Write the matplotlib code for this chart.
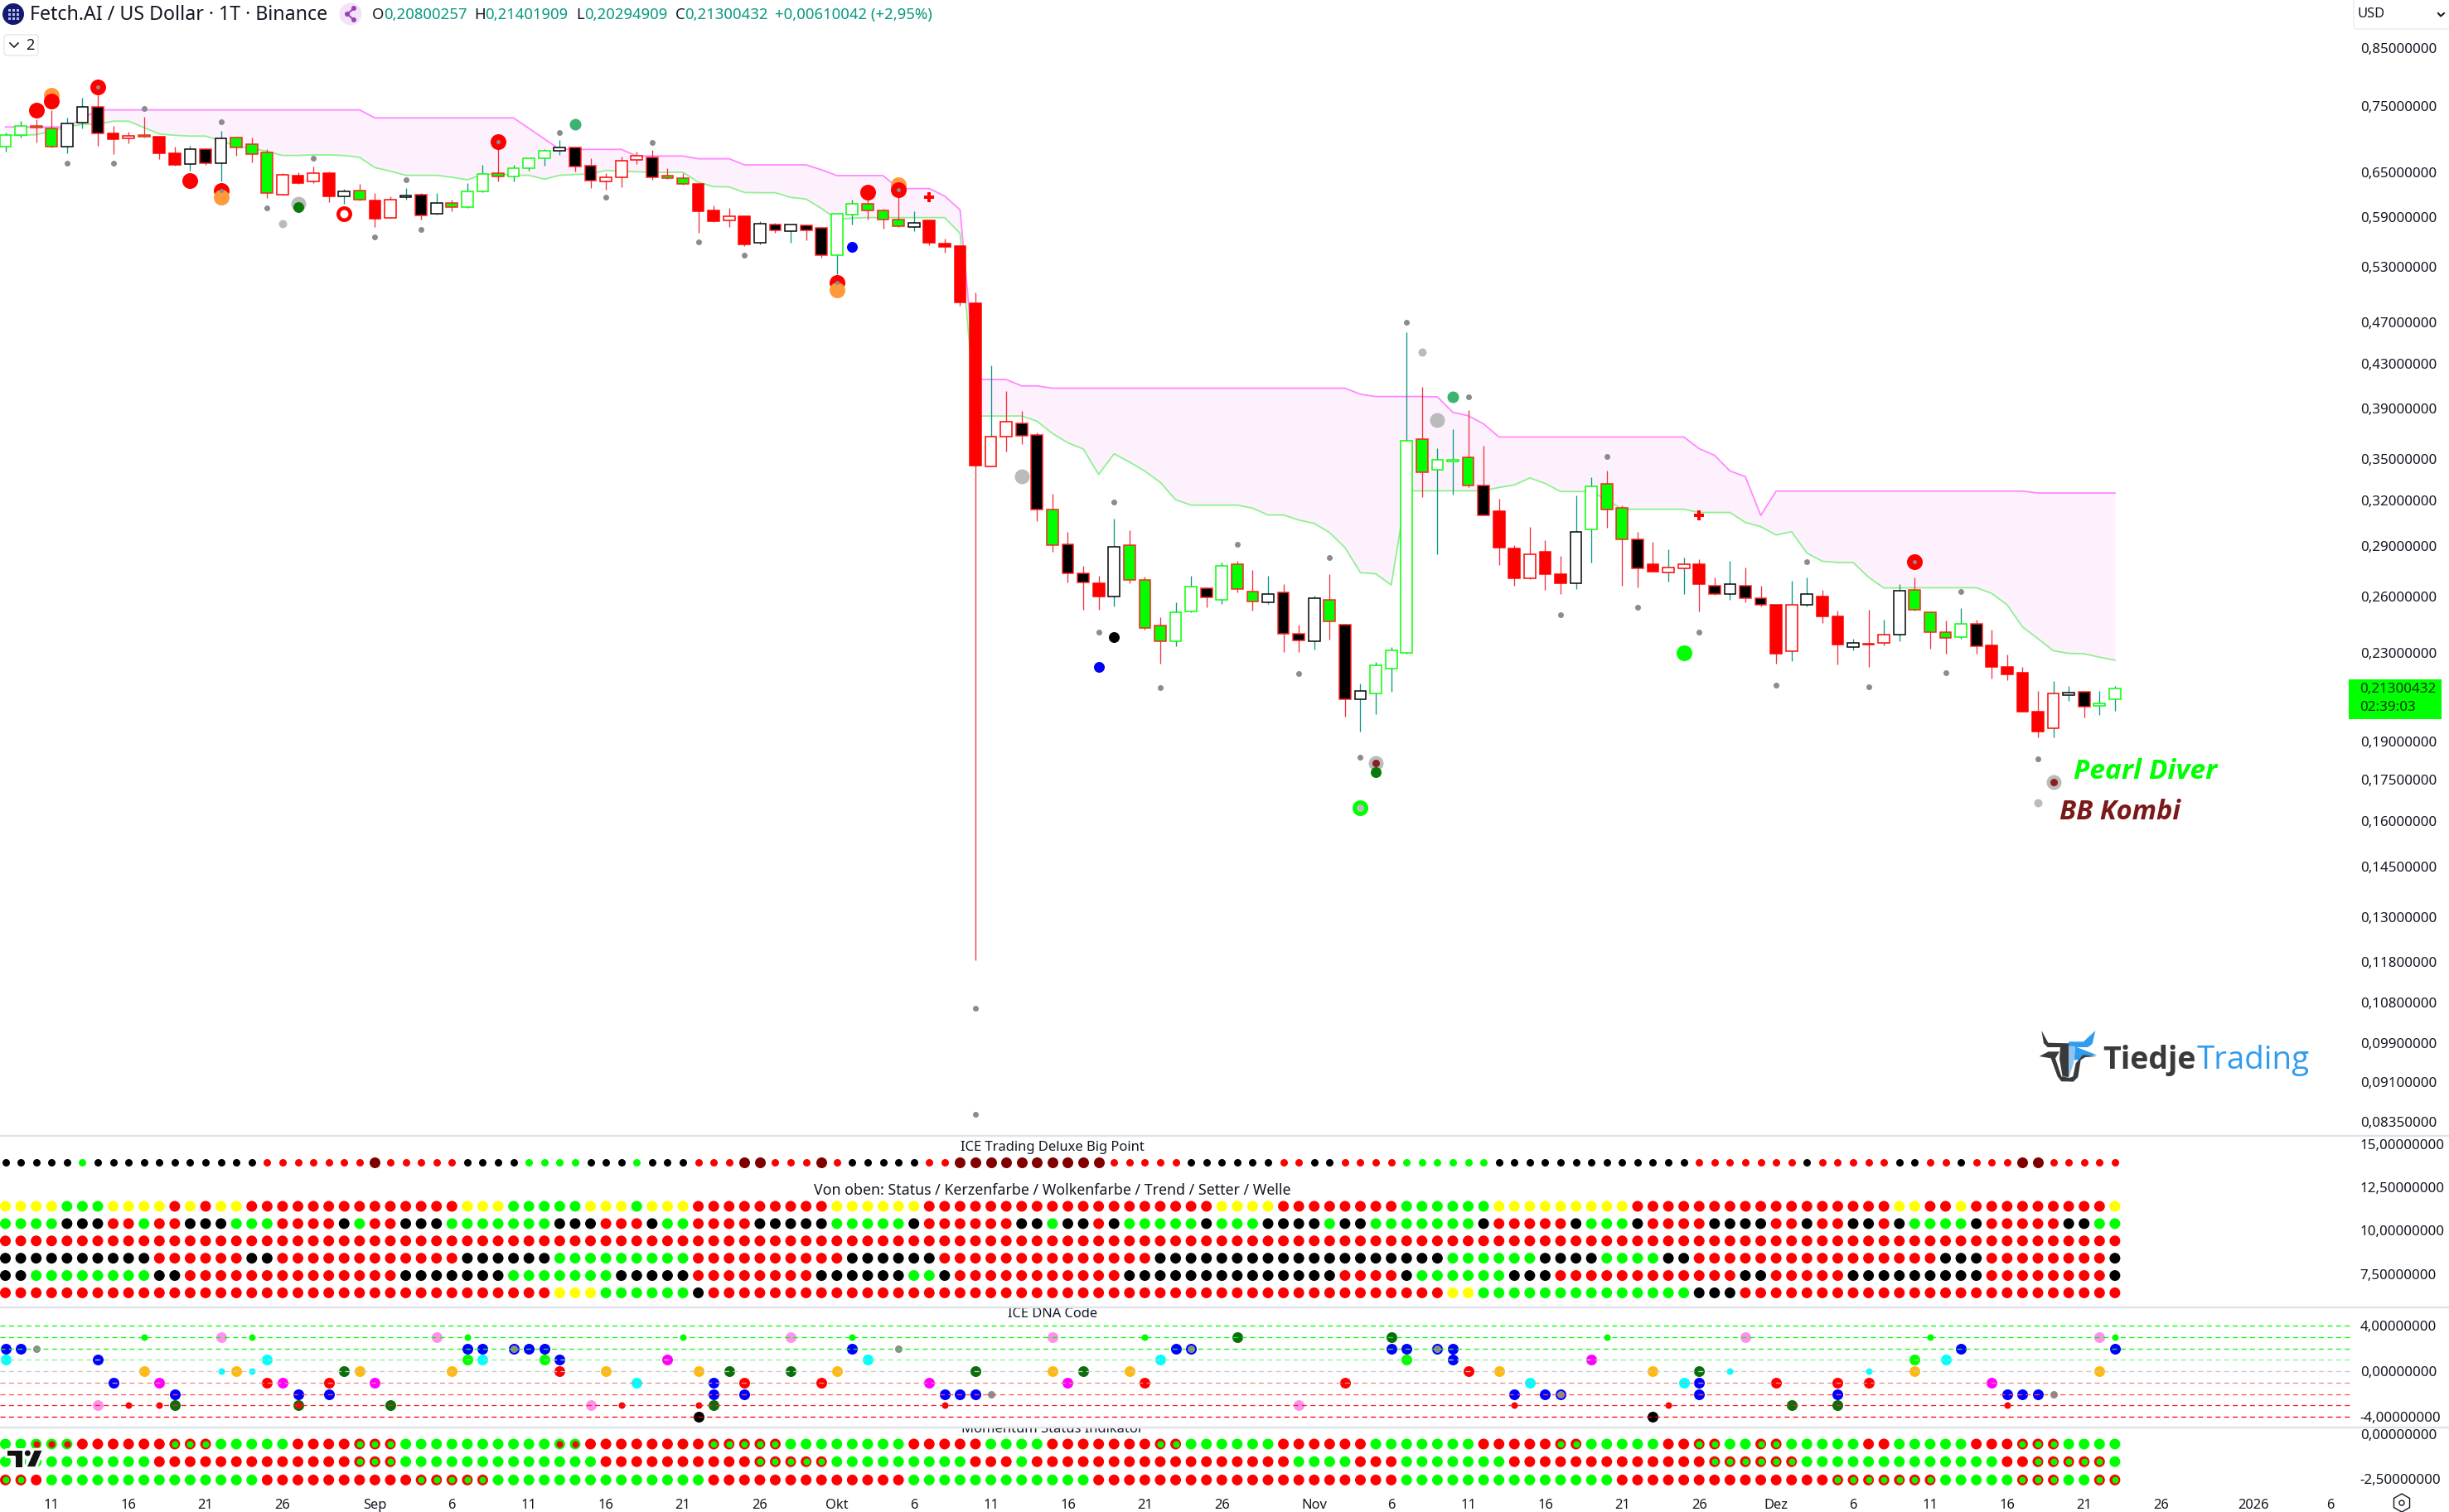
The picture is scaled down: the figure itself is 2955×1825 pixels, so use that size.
import matplotlib
matplotlib.use("Agg")
import matplotlib.pyplot as plt
from matplotlib.patches import Rectangle, Polygon, Circle, FancyBboxPatch, RegularPolygon
from matplotlib.lines import Line2D
from matplotlib.ticker import FixedLocator, FixedFormatter, NullLocator

plt.rcParams['font.family'] = ['Noto Sans', 'DejaVu Sans']
TXT = '#131722'
W, H = 2955, 1825
PX = 0.72  # points per pixel at dpi 100

# ---------- candles ----------
body_top = [.7049,.7180,.7180,.7142,.7219,.7491,.7491,.7066,.7028,.7049,
 .7015,.6768,.6829,.6829,.6990,.7002,.6904,.6780,.6461,.6449,
 .6484,.6484,.6234,.6245,.6112,.6123,.6182,.6189,.6079,.6079,
 .6234,.6472,.6484,.6553,.6696,.6804,.6854,.6854,.6588,.6426,
 .6660,.6732,.6708,.6449,.6414,.6335,.5982,.5908,.5908,.5813,
 .5803,.5803,.5793,.5762,.5940,.6068,.6068,.5982,.5865,.5823,
 .5855,.5569,.5539,.4900,.3670,.3791,.3776,.3687,.3133,.2906,
 .2732,.2673,.2892,.2901,.2692,.2441,.2512,.2654,.2646,.2776,
 .2788,.2627,.2613,.2621,.2397,.2590,.2580,.2445,.2118,.2239,
 .2313,.3636,.3651,.3492,.3492,.3512,.3302,.3123,.2881,.2846,
 .2861,.2727,.2988,.3297,.3315,.3145,.2939,.2786,.2766,.2786,
 .2786,.2658,.2669,.2658,.2591,.2550,.2550,.2611,.2598,.2489,
 .2350,.2347,.2391,.2631,.2635,.2511,.2405,.2449,.2449,.2338,
 .2231,.2203,.2026,.2107,.2110,.2113,.2063,.2130]
body_bot = [.6867,.7040,.7155,.6867,.6867,.7232,.7066,.6986,.6990,.7015,
 .6776,.6600,.6612,.6624,.6632,.6862,.6756,.6211,.6196,.6354,
 .6369,.6167,.6167,.6123,.5883,.5893,.6163,.5918,.5939,.6024,
 .6024,.6234,.6438,.6438,.6553,.6696,.6804,.6577,.6380,.6369,
 .6426,.6672,.6426,.6414,.6335,.5971,.5851,.5855,.5565,.5579,
 .5731,.5720,.5731,.5431,.5431,.5929,.5982,.5865,.5782,.5772,
 .5579,.5535,.4902,.3446,.3440,.3668,.3676,.3135,.2904,.2732,
 .2677,.2598,.2598,.2694,.2426,.2359,.2359,.2516,.2594,.2580,
 .2640,.2571,.2566,.2397,.2363,.2359,.2462,.2081,.2081,.2107,
 .2223,.2300,.3396,.3415,.3477,.3302,.3097,.2890,.2701,.2701,
 .2725,.2673,.2673,.3005,.3133,.2939,.2760,.2744,.2739,.2761,
 .2667,.2613,.2611,.2587,.2550,.2296,.2308,.2550,.2489,.2341,
 .2329,.2344,.2350,.2391,.2524,.2405,.2375,.2382,.2332,.2231,
 .2197,.2026,.1940,.1955,.2099,.2048,.2051,.2080]
highs = [.7082,.7262,.7288,.7428,.7310,.7634,.7675,.7180,.7096,.7327,
 .7015,.6874,.6882,.6833,.7109,.7006,.7006,.6833,.6484,.6495,
 .6580,.6507,.6267,.6339,.6219,.6167,.6279,.6211,.6215,.6123,
 .6346,.6600,.6932,.6600,.6700,.6833,.6969,.6862,.6700,.6484,
 .6728,.6792,.6817,.6553,.6488,.6354,.6054,.6014,.5922,.5851,
 .5823,.5810,.5803,.5765,.5950,.6123,.6211,.6010,.6249,.5975,
 .5858,.5629,.5545,.5014,.4283,.4053,.3877,.3705,.3242,.2990,
 .2774,.2718,.3077,.3000,.2710,.2485,.2566,.2718,.2648,.2796,
 .2808,.2752,.2718,.2671,.2443,.2604,.2729,.2448,.2152,.2256,
 .2330,.4596,.4086,.3580,.3733,.3889,.3597,.3210,.2904,.3022,
 .2937,.2839,.3232,.3360,.3412,.3163,.2986,.2925,.2878,.2824,
 .2818,.2707,.2804,.2768,.2660,.2552,.2689,.2707,.2637,.2520,
 .2372,.2525,.2473,.2670,.2707,.2517,.2465,.2533,.2473,.2419,
 .2293,.2232,.2120,.2165,.2142,.2113,.2120,.2140]
lows = [.6800,.7011,.6932,.6862,.6772,.7147,.6886,.6764,.6916,.7011,
 .6692,.6592,.6523,.6608,.6376,.6732,.6644,.6152,.6193,.6343,
 .6354,.6094,.6072,.6120,.5775,.5886,.6130,.5869,.5936,.5975,
 .6021,.6230,.6376,.6376,.6526,.6592,.6752,.6515,.6286,.6264,
 .6294,.6616,.6399,.6410,.6331,.5703,.5841,.5775,.5545,.5562,
 .5707,.5585,.5612,.5405,.5218,.5810,.5869,.5758,.5775,.5727,
 .5555,.5463,.4873,.1185,.3440,.3554,.3611,.3056,.2863,.2679,
 .2526,.2524,.2544,.2675,.2418,.2246,.2332,.2510,.2537,.2555,
 .2623,.2522,.2555,.2305,.2303,.2318,.2368,.2006,.1940,.2014,
 .2116,.2298,.3221,.2848,.3236,.3289,.3094,.2783,.2660,.2696,
 .2638,.2612,.2642,.2794,.3013,.2660,.2652,.2743,.2682,.2611,
 .2514,.2606,.2582,.2565,.2543,.2249,.2258,.2541,.2452,.2242,
 .2311,.2233,.2338,.2357,.2520,.2323,.2295,.2372,.2298,.2175,
 .2170,.2025,.1915,.1915,.2072,.2002,.2010,.2029]
candle_style = ("LLGGBBKRWG" "RRBKBGGGWR" "WRBGRWBKBG" "LLGLLLBKKW" "WWKGGRRWRB"
                "KBKKLLGGGB" "RRRRWWKKGK" "KRBGGGLLKL" "GGBKKBGKBL" "LLGLLGKRRW"
                "RRBLGGKRWW" "RKBKKRWBRR" "BWWBGGGLKR" "RRRWBKLL")
teal_wick_extra = [64, 108, 109, 116, 122, 133]

# ---------- cloud ----------
cloud_upper = [.7168]*5 + [.7297] + [.7437]*18 + [.7310]*10 + [.7147,.6986] + [.6829]*5 + [.6732]*4 + \
    [.6692]*3 + [.6604]*5 + [.6534] + [.6453]*4 + [.6275]*3 + [.6174,.5993] + [.4153]*3 + [.4096]*2 + \
    [.4076]*20 + [.4023] + [.4003]*4 + [.4000,.3869,.3841,.3773] + [.3668]*13 + \
    [.3577,.3525,.3408,.3367,.3096] + [.3263]*17 + [.3250]*6
cloud_lower = [.7040,.7040,.7049,.7103,.7168,.7210,.7210,.7258,.7258,.7159,
 .7061,.7040,.7028,.7028,.6957,.6874,.6845,.6800,.6740,.6740,
 .6748,.6748,.6740,.6712,.6565,.6515,.6457,.6457,.6457,.6430,
 .6395,.6468,.6476,.6457,.6457,.6403,.6457,.6468,.6476,.6526,
 .6515,.6507,.6499,.6499,.6499,.6361,.6301,.6297,.6222,.6218,
 .6218,.6156,.6134,.6010,.5869,.5886,.5893,.5893,.5893,.5893,
 .5893,.5893,.5696,.3838,.3838,.3838,.3838,.3795,.3696,.3622,
 .3574,.3383,.3537,.3475,.3407,.3326,.3202,.3166,.3166,.3166,
 .3166,.3145,.3099,.3099,.3065,.3043,.2983,.2888,.2736,.2729,
 .2664,.3265,.3265,.3265,.3265,.3265,.3265,.3289,.3307,.3357,
 .3318,.3260,.3260,.3260,.3202,.3138,.3138,.3138,.3138,.3138,
 .3116,.3116,.3116,.3049,.3022,.2968,.2989,.2854,.2804,.2797,
 .2797,.2709,.2647,.2647,.2648,.2648,.2648,.2648,.2648,.2616,
 .2552,.2433,.2372,.2311,.2298,.2296,.2279,.2264]

# ---------- main-pane signals: (bar, price) ----------
small_gray = [(4,.6624),(7,.6624),(9,.7455),(14,.7249),(20,.6700),(17,.6014),(26,.6391),(24,.5652),
 (27,.5748),(36,.7078),(39,.6156),(42,.6928),(45,.5589),(48,.5431),(63,.1067),(63,.0848),
 (72,.3187),(91,.4697),(95,.4000),(80,.2908),(86,.2827),(104,.3519),(101,.2497),(106,.2540),
 (71,.2407),(75,.2135),(84,.2199),(88,.1835),(117,.2802),(110,.2404),(115,.2146),(121,.2136),
 (126,.2203),(127,.2626),(132,.1829)]
mid_gray = [(18,.5813),(92,.4405),(132,.1663)]
big_gray = [(19,.6068),(66,.3368),(93,.3803),(89,.1813),(133,.1741)]
orange_pts = [(3,.7675),(58,.6331)]
red_pts = [(6,.7811),(3,.7576),(2,.7428),(12,.6380),(14,.6249),(32,.6940),(58,.6264),(56,.6230),(54,.5125),(124,.2800)]
orange_over = [(14,.6156),(54,.5041)]
red_centers = [(6,.7811),(14,.6249),(32,.6940),(58,.6264),(54,.5125),(124,.2800)]
red_rings = [(22,.5940)]
red_plus = [(60,.6156),(110,.3097)]
blue_pts = [(55,.5534),(71,.2233)]
black_pts = [(72,.2382)]
seagreen_pts = [(37,.7210),(94,.3997)]
darkgreen_pts = [(19,.6028),(89,.1777)]
brown_centers = [(89,.1813),(133,.1741)]
lime_pts = [(109,.2301)]
lime_rings = [(88,.1645)]

# ---------- indicator rows ----------
deluxe_row = "k5 g1 k11 r7 D1 r5 k4 g4 k3 g1 k3 r3 D2 r3 D1 r1 k5 r2 D10 r5 k6 r2 k2 r4 g6 k13 r7 k1 r5 k2 r2 k1 r3 D2 r5"
status_rows = [
 "y4 g3 y4 r1 y1 r1 y2 r14 y3 g5 y3 g1 y3 r9 y6 r19 y4 r8 g6 y9 r17 y2 r2 y1 r9 y1",
 "g4 k3 r2 g1 r2 k3 g3 r4 k1 g1 r2 k3 g7 k3 r3 k1 g2 r4 k5 g5 k1 r6 k2 g1 k2 r1 k1 g5 k1 g3 k4 g1 k2 g7 k1 r5 k1 g3 k1 r4 k4 r2 k1 r2 k2 r1 k1 g4 k1 r5 k2 g2",
 "r138",
 "k10 r6 k2 r12 k6 g9 r9 r1 k6 r14 k19 g6 k4 g4 k2 r16 k3 r8 k1",
 "k2 g8 k2 r14 k7 g7 k5 r8 k1 k5 g2 k1 r11 k14 r4 k1 g6 k3 r7 r5 k2 r5 k9 r8 k1",
 "r36 y3 g6 k1 r8 r40 y2 g12 g2 k3 r25",
]
status_levels = [11.41, 10.41, 9.41, 8.41, 7.41, 6.41]
deluxe_level = 13.95
momentum_rows = [
 "g2 b3 r6 a3 g5 r4 a3 g10 b2 r8 a5 g3 g5 r5 g4 r7 a2 g6 r6 g7 r5 a2 g5 r2 a2 g2 a2 g5 r2 g5 r3 a3 g4",
 "g10 r13 a3 g13 r10 a5 g9 r3 g1 r17 g4 r3 g7 r10 r3 a6 g13 r2 a5 g1",
 "a2 r1 g14 r10 a5 g14 r8 r5 g12 r20 g14 r3 r11 a7 g5 a3 g2 a2",
]
momentum_levels = [-0.55, -1.53, -2.55]

dna_levels = [4, 3, 2, 1, 0, -1, -2, -3, -4]
dna_line_colors = ['#00FF00', '#00FF00', '#20F020', '#90EE90', '#C8C8C8', '#F08888', '#F05858', '#F02020', '#FF0000']
dna_dots = {  # level: [(bar, kind), ...]
 3: [(9,'s'),(14,'p'),(16,'s'),(28,'p'),(30,'s'),(44,'s'),(51,'p'),(55,'s'),(68,'p'),(74,'s'),(80,'G'),(90,'G'),(104,'s'),(113,'p'),(125,'s'),(136,'p'),(137,'s')],
 2: [(0,'B'),(1,'B'),(2,'y'),(30,'B'),(31,'B'),(33,'R'),(34,'B'),(35,'B'),(55,'B'),(58,'y'),(76,'B'),(77,'R'),(90,'B'),(91,'B'),(93,'R'),(94,'B'),(127,'B'),(137,'B')],
 1: [(0,'c'),(6,'B'),(17,'c'),(30,'g'),(31,'c'),(35,'g'),(36,'B'),(43,'m'),(56,'c'),(75,'c'),(91,'g'),(94,'B'),(103,'m'),(124,'g'),(126,'c')],
 0: [(9,'o'),(14,'t'),(15,'o'),(16,'t'),(22,'G'),(23,'o'),(29,'o'),(36,'r'),(39,'o'),(45,'o'),(47,'G'),(51,'G'),(54,'o'),(63,'G'),(68,'o'),(70,'G'),(73,'o'),(95,'r'),(97,'o'),(107,'o'),(110,'G'),(112,'t'),(121,'t'),(124,'o'),(136,'o')],
 -1: [(7,'B'),(10,'m'),(17,'r'),(18,'m'),(21,'r'),(24,'m'),(41,'c'),(46,'B'),(48,'r'),(53,'r'),(60,'m'),(69,'m'),(74,'r'),(87,'r'),(99,'c'),(109,'c'),(110,'B'),(115,'r'),(119,'r'),(121,'r'),(129,'m')],
 -2: [(11,'B'),(19,'B'),(21,'B'),(46,'B'),(48,'B'),(61,'B'),(62,'B'),(63,'B'),(64,'y'),(98,'B'),(100,'B'),(101,'R'),(110,'B'),(119,'B'),(130,'B'),(131,'B'),(132,'B'),(133,'y')],
 -3: [(6,'p'),(8,'u'),(10,'u'),(11,'G'),(19,'G'),(19,'u'),(25,'G'),(38,'p'),(40,'u'),(45,'u'),(46,'G'),(61,'u'),(84,'p'),(98,'u'),(108,'u'),(116,'G'),(119,'G'),(130,'u')],
 -4: [(45,'k'),(107,'k')],
}

price_ticks = [.85,.75,.65,.59,.53,.47,.43,.39,.35,.32,.29,.26,.23,.19,.175,.16,.145,.13,.118,.108,.099,.091,.0835]
status_ticks = [15, 12.5, 10, 7.5]
dna_ticks = [4, 0, -4]
momentum_ticks = [0, -2.5]
date_bars = [3,8,13,18,24,29,34,39,44,49,54,59,64,69,74,79,85,90,95,100,105,110,115,120,125,130,135,140,146,151]
date_labels = ['11','16','21','26','Sep','6','11','16','21','26','Okt','6','11','16','21','26','Nov','6','11','16','21','26','Dez','6','11','16','21','26','2026','6']

LAST_PRICE = '0,21300432'
COUNTDOWN = '02:39:03'

# ---------- helpers ----------
def rle(s):
    return [t[0] for t in s.split() for _ in range(int(t[1:]))]

def fmt(v):
    return f"{v:.8f}".replace('.', ',')

def area(d):
    return (d * PX) ** 2

def pane(top, bottom):
    a = fig.add_axes([0, 1 - bottom / H, 2838 / W, (bottom - top) / H])
    a.set_xlim(-0.35, 152.4)
    for s in a.spines.values():
        s.set_visible(False)
    a.patch.set_alpha(0)
    a.yaxis.tick_right()
    a.tick_params(axis='y', length=0, pad=7, labelsize=17 * PX, labelcolor=TXT)
    a.tick_params(axis='x', length=0, bottom=False, labelbottom=False)
    for lab in a.get_yticklabels():
        lab.set_ha('left')
    return a

fig = plt.figure(figsize=(W / 100, H / 100), dpi=100, facecolor='white')

# ---------- main pane ----------
ax = pane(0, 1371)
ax.set_yscale('log')
ax.set_ylim(.0810, .9431)
ax.yaxis.set_major_locator(FixedLocator(price_ticks))
ax.yaxis.set_major_formatter(FixedFormatter([fmt(v) for v in price_ticks]))
ax.yaxis.set_minor_locator(NullLocator())
bars = list(range(138))
ax.fill_between(bars, cloud_lower, cloud_upper, color='#FDF1FD', lw=0, zorder=1)
ax.plot(bars, cloud_upper, color='#FF88FF', lw=1.8 * PX, zorder=2)
ax.plot(bars, cloud_lower, color='#90F090', lw=1.8 * PX, zorder=2)

STY = {'R': ('#FF0000', '#FF0000'), 'K': ('#000000', '#FF2020'), 'G': ('#00FF00', '#FF2020'),
       'W': ('#FFFFFF', '#FF0000'), 'L': ('#FFFFFF', '#00FF00'), 'B': ('#FFFFFF', '#000000')}
for i in bars:
    st = candle_style[i]
    teal = st in 'LB' or i in teal_wick_extra
    ax.plot([i, i], [lows[i], highs[i]], color='#089981' if teal else '#F03040', lw=1.3 * PX, zorder=3,
            solid_capstyle='butt')
    fc, ec = STY[st]
    ax.add_patch(Rectangle((i - 0.37, body_bot[i]), 0.74, body_top[i] - body_bot[i], facecolor=fc,
                           edgecolor=ec, lw=1.5 * PX, zorder=4))

def pts(lst, d, c, z=6, **kw):
    ax.scatter([p[0] for p in lst], [p[1] for p in lst], s=area(d), c=c, linewidths=0, zorder=z, **kw)

pts(big_gray, 18, '#BBBBBB', 5)
pts(mid_gray, 10, '#BBBBBB', 5)
pts(orange_pts, 19, '#FF9A3C', 5)
pts(red_pts, 19, '#FF0000', 6)
pts(orange_over, 19, '#FF9A3C', 7)
pts(red_centers, 5, '#8C8C8C', 8)
pts(small_gray, 7, '#8C8C8C', 6)
pts(red_rings, 19, '#FF0000', 6)
pts(red_rings, 10, '#FFFFFF', 7)
pts(blue_pts, 13, '#0000FF', 6)
pts(black_pts, 13, '#000000', 6)
pts(seagreen_pts, 14, '#3CB371', 6)
pts(darkgreen_pts, 13, '#0A7A0A', 8)
pts(brown_centers, 9, '#8B2020', 7)
pts(lime_pts, 19, '#00FF00', 6)
pts(lime_rings, 19, '#00FF00', 6)
pts(lime_rings, 9, '#BBBBBB', 7)
ax.scatter([p[0] for p in red_plus], [p[1] for p in red_plus], marker='P', s=area(12), c='#FF0000',
           linewidths=0, zorder=6)

# ---------- status pane ----------
DOT = {'k': '#000000', 'g': '#00FF00', 'r': '#FF0000', 'y': '#FFFF00', 'D': '#800000'}
ax2 = pane(1371, 1578)
ax2.set_ylim(5.57, 15.48)
ax2.set_yticks(status_ticks, [fmt(v) for v in status_ticks])
for i, c in enumerate(rle(deluxe_row)):
    ax2.scatter(i, deluxe_level, s=area(13 if c == 'D' else 9), c=DOT[c], linewidths=0)
for row, lev in zip(status_rows, status_levels):
    ax2.scatter(bars, [lev] * 138, s=area(13), c=[DOT[c] for c in rle(row)], linewidths=0)
TITLE_KW = dict(ha='center', va='baseline', color=TXT, clip_on=True)
ax2.text(68, 14.62, 'ICE Trading Deluxe Big Point', fontsize=16.6 * PX, **TITLE_KW)
ax2.text(68, 12.08, 'Von oben: Status / Kerzenfarbe / Wolkenfarbe / Trend / Setter / Welle', fontsize=17.8 * PX, **TITLE_KW)

# ---------- DNA pane ----------
ax3 = pane(1578, 1723)
ax3.set_ylim(-4.945, 5.6)
ax3.set_yticks(dna_ticks, [fmt(v) for v in dna_ticks])
KIND = {'B': ('#0000FF', 13), 'c': ('#00FFFF', 13), 'g': ('#00FF00', 13), 'G': ('#0B6E0B', 13),
        'p': ('#FF90EE', 13), 'm': ('#FF00FF', 13), 'o': ('#FFB90F', 13), 'r': ('#FF0000', 13),
        'k': ('#000000', 13), 'y': ('#8C8C8C', 9), 's': ('#00FF00', 8), 't': ('#00FFFF', 8),
        'u': ('#FF0000', 8), 'R': ('#0000FF', 13)}
for lev, items in dna_dots.items():
    for b, kind in items:
        c, d = KIND[kind]
        ax3.scatter(b, lev, s=area(d), c=c, linewidths=0, zorder=3 if d < 13 else 2)
        if kind == 'R':
            ax3.scatter(b, lev, s=area(9), c='#8C8C8C', linewidths=0, zorder=3)
for lev, c in zip(dna_levels, dna_line_colors):
    ax3.axhline(lev, color=c, lw=1.3 * PX, dashes=(4.6, 3.4), zorder=4)
ax3.text(68, 4.73, 'ICE DNA Code', fontsize=16.4 * PX, **TITLE_KW)

# ---------- momentum pane ----------
ax4 = pane(1723, 1800)
ax4.set_ylim(-3.18, 0.37)
ax4.set_yticks(momentum_ticks, [fmt(v) for v in momentum_ticks])
for row, lev in zip(momentum_rows, momentum_levels):
    cs = rle(row)
    outer = [{'g': '#00FF00', 'r': '#FF0000', 'a': '#FF0000', 'b': '#00FF00'}[c] for c in cs]
    ax4.scatter(bars, [lev] * 138, s=area(13), c=outer, linewidths=0, zorder=2)
    for i, c in enumerate(cs):
        if c in 'ab':
            ax4.scatter(i, lev, s=area(8), c='#00FF00' if c == 'a' else '#FF0000', linewidths=0, zorder=3)
ax4.text(68, 0.09, 'Momentum Status Indikator', fontsize=16.6 * PX, **TITLE_KW)
ax4.tick_params(axis='x', labelbottom=True, pad=6.5, labelsize=16.5 * PX, labelcolor=TXT)
ax4.set_xticks(date_bars, date_labels)
for lab in ax4.get_xticklabels():
    if lab.get_text() == '2026':
        lab.set_fontweight('bold')
for a in (ax2, ax3, ax4, ax):
    for lab in a.get_yticklabels():
        lab.set_ha('left')

# ---------- overlay: chrome in pixel coordinates ----------
ov = fig.add_axes([0, 0, 1, 1], zorder=20)
ov.set_xlim(0, W)
ov.set_ylim(H, 0)
ov.axis('off')
ov.patch.set_alpha(0)
for y in (1371, 1578, 1723):
    ov.add_line(Line2D([0, W], [y, y], color='#E0E3EB', lw=2.4 * PX))

# header
ov.add_patch(Circle((16, 17), 13, fc='#141A6E', ec='none'))
for dx in (-5, 0, 5):
    for dy in (-5, 0, 5):
        ov.add_patch(Rectangle((16 + dx - 1.5, 17 + dy - 1.5), 3, 3, fc='#B8BEE8', ec='none'))
ov.text(36, 18, 'Fetch.AI / US Dollar · 1T · Binance', fontsize=23.2 * PX, va='center', ha='left', color=TXT)
ov.add_patch(Circle((423, 17), 13.5, fc='#F3E3F7', ec='none'))
for (a1, b1) in [((427, 10), (419, 17)), ((419, 17), (427, 24))]:
    ov.add_line(Line2D([a1[0], b1[0]], [a1[1], b1[1]], color='#9C3FB8', lw=2 * PX))
for c in [(427, 10), (419, 17), (427, 24)]:
    ov.add_patch(Circle(c, 3, fc='#9C3FB8', ec='none'))
TEAL = '#089981'
for lab, lx, val, vx in [('O', 449, '0,20800257', 463), ('H', 572, '0,21401909', 585),
                         ('L', 695, '0,20294909', 705), ('C', 815, '0,21300432', 826)]:
    ov.text(lx, 18, lab, fontsize=18.5 * PX, va='center', color=TXT)
    ov.text(vx, 18, val, fontsize=18.5 * PX, va='center', color=TEAL)
ov.text(935, 18, '+0,00610042 (+2,95%)', fontsize=18.5 * PX, va='center', color=TEAL)
ov.add_patch(FancyBboxPatch((5, 42), 41, 25, boxstyle='round,pad=0,rounding_size=3', fc='white', ec='#E0E3EB', lw=1.2 * PX))
ov.add_line(Line2D([12, 17, 22], [52, 57, 52], color=TXT, lw=1.6 * PX))
ov.text(31, 55, '2', fontsize=18 * PX, va='center', color=TXT)

# USD box
ov.add_patch(FancyBboxPatch((2840, -4), 130, 39, boxstyle='round,pad=0,rounding_size=4', fc='white', ec='#E6E8EE', lw=1.2 * PX, clip_on=True))
ov.text(2845, 17, 'USD', fontsize=16.5 * PX, va='center', color='#131722')
ov.add_line(Line2D([2942, 2945, 2949], [16, 19.5, 16], color=TXT, lw=2 * PX))

# annotations
ov.text(2502, 931, 'Pearl Diver', fontsize=33.5 * PX, color='#00FF00', fontweight='bold', style='italic', va='center', family='Open Sans')
ov.text(2485, 980, 'BB Kombi', fontsize=32.5 * PX, color='#7B1818', fontweight='bold', style='italic', va='center', family='Open Sans')

# last price tag
ov.add_patch(Rectangle((2834, 820), 112, 48, fc='#00FF00', ec='none'))
ov.text(2847, 832, LAST_PRICE, fontsize=17 * PX, va='center', color='#0A3A0A')
ov.text(2847, 854, COUNTDOWN, fontsize=17 * PX, va='center', color='#0A3A0A')

# Tiedje Trading logo
def z7(p):
    return [(2430 + x / 3, 1220 + y / 3) for x, y in p]
DK = '#3A3A3C'
BL = '#2F9CF0'
ov.add_patch(Polygon(z7([(100,72),(124,116),(200,118),(200,132),(122,132),(108,118)]), fc=DK, ec='none'))
ov.add_patch(Polygon(z7([(295,72),(284,120),(268,132),(200,132),(198,112),(252,112)]), fc=BL, ec='none'))
ov.add_patch(Polygon(z7([(92,165),(125,148),(165,148),(150,172),(172,238),(198,242),(218,256),(172,256),(158,238),(134,172)]), fc=DK, ec='none'))
ov.add_patch(Polygon(z7([(168,128),(198,128),(198,240),(176,238),(165,175)]), fc=DK, ec='none'))
ov.add_patch(Polygon(z7([(198,128),(222,128),(216,190),(198,245)]), fc='#8FC4F0', ec='none'))
ov.add_patch(Polygon(z7([(222,130),(300,160),(256,165),(236,178),(218,178)]), fc=BL, ec='none'))
ov.add_patch(Polygon(z7([(300,165),(258,168),(242,178),(232,240),(216,256),(198,256),(198,244),(214,238),(224,190),(250,160)]), fc=DK, ec='none'))
ov.text(2537, 1290, 'Tiedje', fontsize=37.5 * PX, fontweight='bold', color=DK, va='baseline', family='Open Sans')
ov.text(2651, 1290, 'Trading', fontsize=38.5 * PX, color=BL, va='baseline', family='Open Sans')

# TradingView mark
def z9(p):
    return [(x / 3, 1735 + y / 3) for x, y in p]
tv = dict(fc='#111111', ec='white', lw=3 * PX, joinstyle='round')
ov.add_patch(Polygon(z9([(22,43),(85,43),(85,110),(52,110),(52,70),(22,70)]), **tv))
ov.add_patch(Polygon(z9([(122,43),(158,43),(130,110),(92,110)]), **tv))
ov.add_patch(Circle((100 / 3, 1735 + 57 / 3), 4.5, fc='#111111', ec='white', lw=2 * PX))

# settings icon
ov.add_patch(RegularPolygon((2898, 1814), 6, radius=11, orientation=0, fc='white', ec=TXT, lw=1.4 * PX))
ov.add_patch(Circle((2898, 1814), 3, fc='white', ec=TXT, lw=1.4 * PX))

fig.savefig('out.png', dpi=100, facecolor='white')
